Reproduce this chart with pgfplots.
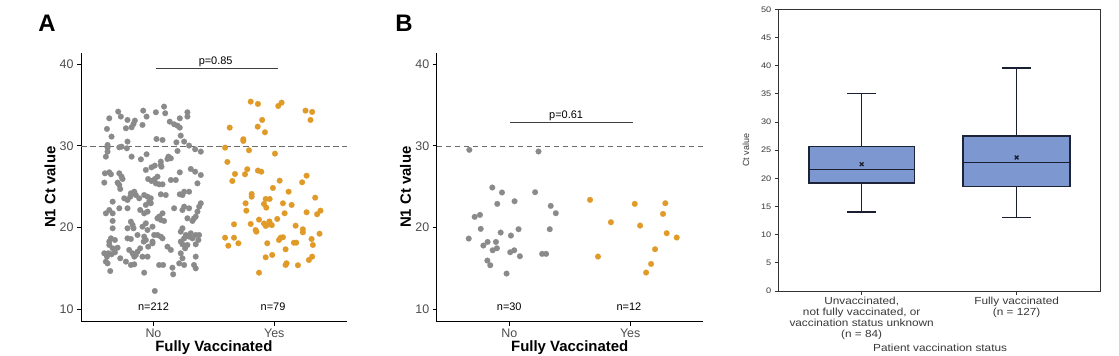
\documentclass[border=0pt]{standalone}
\usepackage{pgfplots}
\pgfplotsset{compat=1.18}
\usepackage{fontspec}
\setmainfont{Liberation Sans}
\newfontfamily\cfont[FakeStretch=1.15]{Liberation Sans}
\definecolor{ptgray}{RGB}{138,138,138}
\definecolor{ptorange}{RGB}{224,154,40}
\definecolor{ticklab}{RGB}{77,77,77}
\definecolor{boxblue}{RGB}{125,152,208}
\definecolor{boxedge}{RGB}{30,36,56}
\definecolor{ctext}{RGB}{55,55,55}

\pgfplotsset{
  ggstyle/.style={
    anchor=south west, scale only axis, width=265.7bp, height=269bp,
    xmin=0.4, xmax=2.6, ymin=8.48, ymax=41.4,
    axis lines*=left, axis line style={line width=0.9bp, black},
    tick align=outside, major tick length=4bp,
    every tick/.style={black, line width=0.9bp},
    xtick={1,2}, xticklabels={No,Yes}, ytick={10,20,30,40},
    /pgf/number format/assume math mode=true,
    tick label style={font=\fontsize{12.5}{14}\selectfont, text=ticklab},
    xlabel={Fully Vaccinated}, ylabel={N1 Ct value},
    label style={font=\bfseries\fontsize{15}{17}\selectfont},
    xlabel style={at={(axis description cs:0.5,-0.098)}, anchor=center},
    ylabel style={at={(axis description cs:-0.117,0.5)}, anchor=center},
    clip=false,
  },
  grayp/.style={only marks, mark=*, mark size=2.9bp, color=ptgray, mark options={solid, line width=0.1bp}},
  orangep/.style={only marks, mark=*, mark size=2.9bp, color=ptorange, mark options={solid, line width=0.1bp}},
  boxs/.style={fill=boxblue, draw=boxedge, line width=1.4bp, line cap=rect, line join=miter},
  whis/.style={draw=boxedge!85!black, line width=1.3bp},
}

\begin{document}
\begin{tikzpicture}
\useasboundingbox (0,0) rectangle (1119bp,356bp);
\node[font=\bfseries\fontsize{24}{26}\selectfont] at (47bp,333bp) {A};
\node[font=\bfseries\fontsize{24}{26}\selectfont] at (404bp,333bp) {B};

% ---------------- Panel A ----------------
\begin{axis}[ggstyle, at={(81bp,34.3bp)}]
\addplot[gray!85!black, line width=0.7bp, dash pattern=on 5.5bp off 3.5bp] coordinates {(0.4,30) (2.6,30)};
\addplot[grayp] coordinates {
(0.708,34.19) (0.730,33.58) (0.634,33.37) (0.785,33.17) (0.846,33.09) (0.835,32.68) (0.819,32.27) (0.772,32.15) (0.915,34.31) (0.943,33.58)
(0.909,32.56) (0.615,32.07) (0.653,31.13) (0.620,30.11) (0.620,29.78) (0.785,30.52) (0.717,29.82) (0.736,29.90) (0.780,29.70) (0.620,29.29)
(0.606,28.68) (0.819,28.68) (0.896,28.35) (0.943,28.97) (0.634,26.76) (0.598,26.64) (0.648,26.52) (0.717,26.64) (0.736,26.23) (0.744,25.94)
(0.593,25.50) (0.703,25.50) (0.717,25.21) (0.725,24.72) (0.937,27.05) (0.956,25.94) (0.984,25.70) (1.011,25.94) (0.984,27.37) (0.813,24.19)
(0.841,24.39) (0.854,23.98) (0.923,23.98) (0.951,23.78) (0.662,23.17) (0.758,23.58) (0.785,23.37) (0.808,23.78) (1.011,27.58)
(1.088,34.80) (1.020,34.11) (1.097,33.99) (1.281,34.11) (1.281,33.58) (1.135,32.96) (1.171,32.64) (1.199,32.47) (1.218,32.23) (1.218,33.37)
(1.226,31.25) (1.025,30.84) (1.075,30.72) (1.190,30.43) (1.254,30.52) (1.295,30.03) (1.345,29.58) (1.392,29.29) (1.199,29.37) (1.124,28.68)
(1.144,28.48) (1.116,28.39) (1.061,28.07) (1.061,27.66) (1.066,27.45) (1.309,27.17) (1.345,26.84) (1.392,26.43) (1.218,26.76) (1.033,26.23)
(1.020,25.41) (1.047,25.29) (1.075,25.29) (1.144,25.82) (1.185,25.82) (1.364,25.41) (1.254,24.39) (1.295,24.39) (1.240,23.98) (1.218,24.07)
(1.061,24.07) (1.102,23.98)
(0.882,23.58) (0.965,23.17) (0.937,22.77) (0.634,22.15) (0.606,21.74) (0.662,21.74) (0.717,22.36) (0.785,22.36) (0.890,22.15) (0.923,21.74)
(0.951,21.95) (0.662,20.81) (0.662,19.91) (0.813,20.72) (0.827,20.32) (0.835,19.91) (0.785,19.91) (0.937,20.52) (0.909,20.11) (0.951,19.70)
(0.992,20.11) (0.868,19.09) (0.785,18.68) (0.813,18.60) (0.923,18.89) (0.937,18.48) (0.919,18.28) (0.648,18.68) (0.681,18.48) (0.634,18.28)
(0.703,17.54) (0.662,17.46) (0.634,17.87) (0.593,16.85) (0.626,16.85) (0.653,16.73) (0.681,16.97) (0.615,16.44) (0.606,15.83) (0.620,15.62)
(0.725,16.24) (0.772,15.83) (0.799,17.26) (0.827,16.85) (0.854,16.64) (0.841,16.44) (0.868,17.05) (0.909,16.44) (0.951,16.44) (0.890,17.46)
(0.956,17.66) (0.992,18.07) (1.006,19.09) (0.813,15.42) (0.841,15.50) (0.642,14.68) (0.923,14.48) (1.011,12.24)
(0.978,23.58) (0.978,22.97) (1.171,22.36) (1.240,22.15) (1.254,22.56) (1.295,22.36) (1.378,22.56) (1.392,22.97) (1.364,21.95) (1.350,21.34)
(1.336,21.13) (1.323,20.81) (1.281,21.13) (1.075,21.74) (1.033,21.13) (1.061,20.93) (1.088,20.81) (1.047,21.34) (1.240,19.91) (1.226,19.50)
(1.268,19.09) (1.295,18.89) (1.254,18.68) (1.226,18.28) (1.309,19.30) (1.323,18.68) (1.350,19.09) (1.378,19.09) (1.372,18.48) (1.350,17.95)
(1.281,17.87) (1.240,17.95) (1.262,17.46) (1.033,19.09) (1.061,18.89) (1.075,18.68) (0.992,18.28) (1.116,17.66) (1.144,17.26) (1.226,16.85)
(1.240,16.24) (1.254,15.42) (1.213,15.62) (1.350,16.44) (1.336,15.42) (1.350,15.01) (1.047,15.42) (1.080,15.42) (1.157,15.09) (1.163,14.28)
};
\addplot[orangep] coordinates {
(1.805,35.41) (1.865,35.13) (2.033,34.88) (2.061,35.29) (2.259,34.31) (2.314,34.15) (2.300,33.17) (1.631,32.23) (1.900,33.17) (1.863,32.35)
(1.923,31.66) (1.744,30.81) (1.744,30.60) (1.593,29.78) (1.791,29.46) (2.006,29.05) (1.612,28.03) (1.777,27.14) (1.865,26.97) (1.893,26.84)
(1.675,26.56) (1.758,26.52) (1.653,25.70) (2.045,25.74) (2.268,26.35) (2.231,25.54) (1.989,24.85) (2.119,24.39) (1.813,24.11) (1.813,23.78)
(1.929,23.50) (1.962,23.50) (2.339,23.66)
(1.763,22.97) (1.915,22.89) (1.934,22.44) (2.072,22.97) (2.144,22.77) (1.769,22.07) (2.086,21.75) (2.268,21.87) (2.383,22.07) (2.355,21.63)
(1.874,20.97) (2.025,21.05) (1.667,20.40) (1.805,20.44) (1.915,20.50) (1.960,20.75) (1.980,20.30) (1.930,20.20) (1.955,20.40) (1.846,19.70)
(1.852,19.50) (2.177,20.23) (2.237,19.79) (2.237,19.42) (2.375,19.25) (1.593,18.76) (1.667,18.76) (1.620,17.78) (1.703,18.08) (2.053,18.76)
(2.039,18.48) (2.072,18.81) (1.942,18.08) (2.163,18.15) (2.182,18.15) (2.309,18.60) (2.320,17.87) (2.094,17.34) (1.929,16.36) (1.983,16.65)
(2.314,16.44) (2.287,16.03) (2.102,15.63) (2.094,15.42) (2.196,15.39) (1.874,14.48)
};
\addplot[black!75, line width=0.8bp] coordinates {(1.02,39.43) (2.03,39.43)};
\node[font=\fontsize{11}{13}\selectfont, anchor=base] at (axis cs:1.515,39.95) {p=0.85};
\node[font=\fontsize{11}{13}\selectfont] at (axis cs:1.0,10.3) {n=212};
\node[font=\fontsize{11}{13}\selectfont] at (axis cs:1.99,10.3) {n=79};
\end{axis}

% ---------------- Panel B ----------------
\begin{axis}[ggstyle, at={(436.7bp,34.3bp)}, width=266bp]
\addplot[gray!85!black, line width=0.7bp, dash pattern=on 5.5bp off 3.5bp] coordinates {(0.4,30) (2.6,30)};
\addplot[grayp] coordinates {
(0.670,29.51) (1.242,29.31) (0.860,24.90) (0.940,24.29) (0.901,22.90) (1.044,23.22) (1.214,24.33) (1.343,22.65) (1.385,21.76) (0.758,21.55)
(0.714,21.31) (0.764,19.84) (1.077,19.80) (0.929,19.39) (1.335,19.80) (0.665,18.65) (1.014,19.02) (0.821,18.24) (0.890,18.24) (0.786,17.80)
(0.898,17.47) (0.863,17.22) (1.041,17.22) (1.008,16.98) (1.272,16.78) (1.305,16.78) (1.088,16.49) (0.819,15.96) (0.843,15.39) (0.978,14.37)
};
\addplot[orangep] coordinates {
(1.668,23.39) (2.038,22.90) (2.291,22.98) (2.272,21.67) (1.841,20.65) (2.082,20.24) (2.302,19.31) (2.385,18.78) (2.206,17.35) (1.734,16.45)
(2.173,15.55) (2.132,14.49)
};
\addplot[black!75, line width=0.8bp] coordinates {(1.005,32.86) (2.02,32.86)};
\node[font=\fontsize{11}{13}\selectfont, anchor=base] at (axis cs:1.47,33.4) {p=0.61};
\node[font=\fontsize{11}{13}\selectfont] at (axis cs:1.0,10.3) {n=30};
\node[font=\fontsize{11}{13}\selectfont] at (axis cs:1.99,10.3) {n=12};
\end{axis}

% ---------------- Panel C ----------------
\begin{axis}[anchor=south west, at={(778.3bp,65bp)}, scale only axis,
  width=321.7bp, height=281.7bp,
  xmin=0.462, xmax=2.538, ymin=0, ymax=50,
  axis line style={line width=0.8bp, black!80},
  tick align=outside, tick pos=left, major tick length=3.5bp,
  every tick/.style={black!80, line width=0.7bp},
  ytick={0,5,...,50}, xtick={1,2},
  /pgf/number format/assume math mode=true,
  xticklabels={{Unvaccinated,\\not fully vaccinated, or\\vaccination status unknown\\(n = 84)},{Fully vaccinated\\(n = 127)}},
  xticklabel style={align=center, font=\cfont\fontsize{10.3}{11}\selectfont, text=ctext, inner sep=2bp},
  yticklabel style={font=\cfont\fontsize{8}{9}\selectfont, text=ctext},
  xlabel={Patient vaccination status}, ylabel={Ct value},
  xlabel style={at={(axis description cs:0.503,-0.202)}, anchor=center, font=\cfont\fontsize{10.3}{12}\selectfont, text=ctext},
  ylabel style={at={(axis description cs:-0.101,0.5)}, anchor=center, font=\fontsize{9}{10}\selectfont, text=ctext},
]
% group 1: whiskers
\addplot[whis] coordinates {(1,25.6) (1,35.0)};
\addplot[whis] coordinates {(1,19.2) (1,14.0)};
\addplot[whis] coordinates {(0.905,35.0) (1.095,35.0)};
\addplot[whis] coordinates {(0.905,14.0) (1.095,14.0)};
\addplot[boxs] coordinates {(0.66,19.2) (1.34,19.2) (1.34,25.6) (0.66,25.6) (0.66,19.2)};
\addplot[whis] coordinates {(0.66,21.6) (1.34,21.6)};
\addplot[only marks, mark=x, mark size=2.6bp, color=boxedge, mark options={line width=1.3bp}] coordinates {(1,22.5)};
% group 2
\addplot[whis] coordinates {(2,27.5) (2,39.6)};
\addplot[whis] coordinates {(2,18.6) (2,13.1)};
\addplot[whis] coordinates {(1.905,39.6) (2.095,39.6)};
\addplot[whis] coordinates {(1.905,13.1) (2.095,13.1)};
\addplot[boxs] coordinates {(1.655,18.6) (2.345,18.6) (2.345,27.5) (1.655,27.5) (1.655,18.6)};
\addplot[whis] coordinates {(1.655,22.8) (2.345,22.8)};
\addplot[only marks, mark=x, mark size=2.6bp, color=boxedge, mark options={line width=1.3bp}] coordinates {(2,23.7)};
\end{axis}
\end{tikzpicture}
\end{document}
